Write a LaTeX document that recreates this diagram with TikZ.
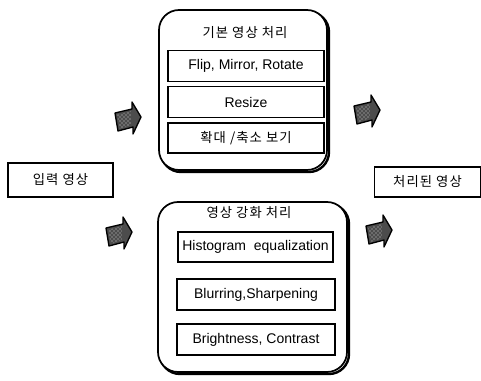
\documentclass[tikz,border=0pt]{standalone}
\usepackage{fontspec}
\setmainfont{Liberation Sans}
\newfontfamily\kr[LetterSpace=8]{Noto Sans CJK KR}
\usetikzlibrary{patterns}
\begin{document}
\begin{tikzpicture}[x=0.75pt,y=-0.75pt,
  outerbox/.style={draw=black,line width=1.3pt,fill=white,rounded corners=15pt},
  outershadow/.style={draw=black,line width=1.8pt,rounded corners=15pt},
  innerbox/.style={draw=black,line width=0.9pt,fill=white,inner sep=0pt},
  iobox/.style={draw=black,line width=0.9pt,fill=white,inner sep=0pt},
  lat/.style={font=\fontsize{10.5}{12}\selectfont},
  kor/.style={font=\kr\fontsize{10}{12}\selectfont},
  arrowbody/.style={fill=black!70,draw=black,line width=1pt,line join=round},
  arrowtex/.style={pattern=crosshatch dots,pattern color=white!85!black}
]
\useasboundingbox (0,0) rectangle (481,381);
% outer containers
\draw[outershadow] (161,12) rectangle (329,172);
\draw[outerbox] (159,10) rectangle (327,170);
\draw[outershadow] (160,204) rectangle (349,374);
\draw[outerbox] (158,202) rectangle (347,372);
\node[kor] (t1) at (245,33) {기본 영상 처리};
\node[kor] (t2) at (249,213) {영상 강화 처리};
% inner boxes top
\node[innerbox,lat,minimum width=117pt,minimum height=23.25pt] (flip) at (246,66) {Flip, Mirror, Rotate};
\node[innerbox,lat,minimum width=117pt,minimum height=23.25pt] (resize) at (246,102) {Resize};
\node[innerbox,minimum width=117pt,minimum height=22.5pt,label={[kor]center:확대 /축소 보기}] (zoom) at (246,138) {};
% inner boxes bottom
\node[innerbox,lat,minimum width=116.25pt,minimum height=22.5pt] (hist) at (255.5,247) {Histogram\ \ equalization};
\node[innerbox,lat,minimum width=118.5pt,minimum height=23.25pt] (blur) at (256,294.5) {Blurring,Sharpening};
\node[innerbox,lat,minimum width=118.5pt,minimum height=23.25pt] (bright) at (256,339.5) {Brightness, Contrast};
% input / output
\node[iobox,minimum width=78.75pt,minimum height=25.5pt,label={[kor]center:입력 영상}] (in) at (60.5,180) {};
\node[iobox,minimum width=79pt,minimum height=22.5pt,label={[kor]center:처리된 영상}] (out) at (427.5,182) {};
% block arrows
\foreach \cx/\cy in {127/117, 118/232, 366/110, 378/230}{
  \begin{scope}[shift={(\cx,\cy)}]
    \path[arrowbody] (-12,-4) -- (5,-8) -- (5,-15) -- (14,0) -- (6,17) -- (6,10) -- (-9,14) -- cycle;
    \path[arrowtex] (-10,-2) -- (4,-6) -- (4,8) -- (-7,12) -- cycle;
  \end{scope}
}
\end{tikzpicture}
\end{document}
